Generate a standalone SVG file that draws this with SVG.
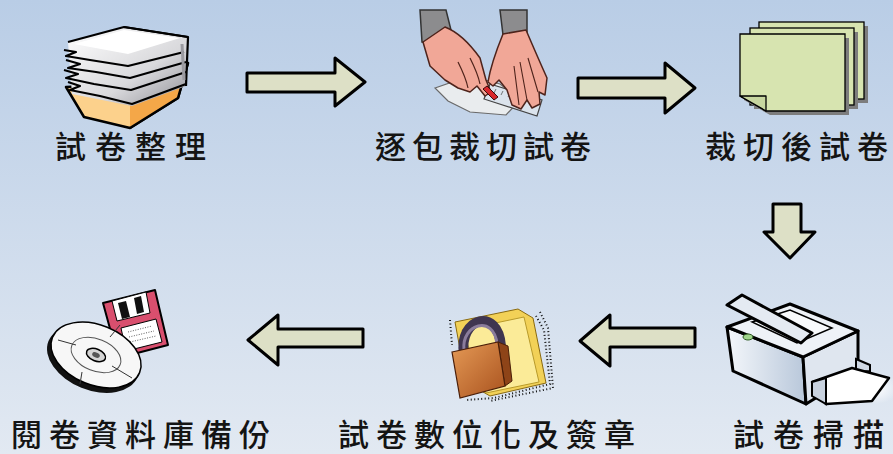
<svg xmlns="http://www.w3.org/2000/svg" width="893" height="454" viewBox="0 0 893 454">
  <defs>
    <linearGradient id="bg" x1="0" y1="0" x2="0" y2="1">
      <stop offset="0" stop-color="#b9cde6"/>
      <stop offset="1" stop-color="#e2e9f2"/>
    </linearGradient>
    <linearGradient id="paperShade" x1="0" y1="0" x2="1" y2="1">
      <stop offset="0" stop-color="#ffffff"/>
      <stop offset="0.6" stop-color="#d9d9dc"/>
      <stop offset="1" stop-color="#8f8f95"/>
    </linearGradient>
    <linearGradient id="lockBody" x1="0" y1="0" x2="1" y2="1">
      <stop offset="0" stop-color="#e59a56"/>
      <stop offset="1" stop-color="#a9521e"/>
    </linearGradient>
    <linearGradient id="scanBody" x1="0" y1="0" x2="1" y2="0">
      <stop offset="0" stop-color="#f4f7fb"/>
      <stop offset="1" stop-color="#b8c7da"/>
    </linearGradient>
    <radialGradient id="glow" cx="0.5" cy="0.5" r="0.5">
      <stop offset="0" stop-color="#ffffff"/>
      <stop offset="1" stop-color="#ffffff" stop-opacity="0"/>
    </radialGradient>
    <style>
      .lbl { font-family: "Noto Sans CJK TC", "Noto Sans CJK SC", sans-serif; font-size: 31px; font-weight: 500; fill: #141414; letter-spacing: 7px; }
      .wide { letter-spacing: 9px; }
      .tight { letter-spacing: 6px; }
      .arrow { fill: #dde0c6; stroke: #000; stroke-width: 3; stroke-linejoin: round; }
      .skin { fill: #f1a797; stroke: #4e231b; stroke-width: 1.5; stroke-linejoin: round; }
      .sleeve { fill: #8c8c8e; stroke: #333; stroke-width: 1.5; }
      .sheet { fill: #d7e4b0; stroke: #000; stroke-width: 1.3; }
      .shadow { fill: #7d7d7d; }
    </style>
  </defs>

  <rect width="893" height="454" fill="url(#bg)"/>

  <!-- connectors -->
  <g id="connectors">
    <polygon class="arrow" points="247,73 335,73 335,58 365,82 335,106 335,92 247,92"/>
    <polygon class="arrow" points="578,78 665,78 665,63 695,88 665,113 665,98 578,98"/>
    <polygon class="arrow" points="773,204 801,204 801,232 815,232 790,258 764,232 773,232"/>
    <polygon class="arrow" points="695,328 610,328 610,315 580,341 610,366 610,347 695,347"/>
    <polygon class="arrow" points="363,329 278,329 278,315 248,340 278,365 278,347 363,347"/>
  </g>

  <!-- step 1: paper stack in a box -->
  <g id="sort-papers">
    <polygon points="66,87 84,117 130,128 178,98 188,63 130,84" fill="#fcd18c" stroke="#000" stroke-width="2.5" stroke-linejoin="round"/>
    <polygon points="130,92 130,128 178,98 188,63" fill="#f4a748"/>
    <polyline points="130,128 178,98 188,63" fill="none" stroke="#000" stroke-width="2.5" stroke-linejoin="round"/>
    <polygon points="68,42 124,27 188,37 186,86 132,106 72,94" fill="url(#paperShade)"/>
    <g fill="none" stroke="#000" stroke-width="2.2" stroke-linejoin="round">
      <polyline points="68,42 124,27 188,37"/>
      <polyline points="64,50 76,52 66,56 90,60 128,66 184,52"/>
      <polyline points="66,60 80,64 68,68 96,72 130,78 186,62"/>
      <polyline points="64,70 78,74 66,78 94,84 131,90 186,72"/>
      <polyline points="68,82 80,86 70,90 100,96 132,104 186,84"/>
      <polyline points="124,27 188,37 186,86"/>
    </g>
    <polygon points="74,44 124,30 180,38 128,54" fill="#ffffff"/>
    <polyline points="182,44 184,80" stroke="#9a9aa0" stroke-width="3" fill="none"/>
    <text class="lbl wide" x="55" y="158">試卷整理</text>
  </g>

  <!-- step 2: cutting the bundle with a ruler and knife -->
  <g id="cut-bundle">
    <polygon points="435,88 470,76 500,84 520,100 506,115 470,112 448,101" fill="#e9ecee" stroke="#6a6a6a" stroke-width="1.2"/>
    <polygon points="490,84 542,100 537,116 484,99" fill="#dbe3ec" stroke="#444" stroke-width="1.2"/>
    <g stroke="#555" stroke-width="0.8">
      <line x1="496" y1="89" x2="494" y2="93"/>
      <line x1="503" y1="91" x2="501" y2="95"/>
      <line x1="510" y1="93" x2="508" y2="97"/>
      <line x1="517" y1="95" x2="515" y2="99"/>
      <line x1="524" y1="97" x2="522" y2="101"/>
      <line x1="531" y1="99" x2="529" y2="103"/>
    </g>
    <polygon class="sleeve" points="420,10 446,10 451,30 440,44 422,42"/>
    <path class="skin" d="M423,42 L445,27 C458,32 470,44 480,58 L486,80 L491,92 L485,96 L477,86 L470,92 L458,88 L445,80 L430,66 Z"/>
    <path d="M470,58 C474,66 478,74 480,84 M458,62 C462,70 466,78 468,88" fill="none" stroke="#4e231b" stroke-width="1.2"/>
    <polygon points="483,89 487,86 498,97 494,100" fill="#d8262b" stroke="#3a0a0a" stroke-width="1"/>
    <polygon class="sleeve" points="500,10 527,10 527,33 503,35"/>
    <path class="skin" d="M503,34 L526,30 C532,44 538,58 547,78 L545,95 L539,92 L540,104 L532,108 L527,100 L521,109 L512,105 L507,90 L499,80 L493,86 L488,82 C490,70 494,56 503,34 Z"/>
    <path d="M520,62 L527,100 M514,66 L519,105 M528,58 L538,92" fill="none" stroke="#4e231b" stroke-width="1.1"/>
    <text class="lbl tight" x="375" y="158">逐包裁切試卷</text>
  </g>

  <!-- step 3: cut sheets -->
  <g id="cut-sheets">
    <rect class="shadow" x="763" y="26" width="105" height="77"/>
    <rect class="sheet" x="759" y="22" width="105" height="77"/>
    <rect class="shadow" x="754" y="32" width="104" height="77"/>
    <rect class="sheet" x="750" y="28" width="104" height="77"/>
    <polygon class="shadow" points="744,38 849,38 849,115 770,115 744,100"/>
    <polygon class="sheet" points="740,34 845,34 845,111 766,111 740,96"/>
    <polygon points="740,96 766,96 766,111" fill="#c7d6a0" stroke="#000" stroke-width="1.3" stroke-linejoin="round"/>
    <text class="lbl" style="letter-spacing:0" x="705 743 781 819 857" y="158">裁切後試卷</text>
  </g>

  <!-- step 4: scanner -->
  <g id="scan">
    <ellipse cx="876" cy="388" rx="22" ry="16" fill="url(#glow)"/>
    <polygon points="727,327 803,357 806,404 733,371" fill="url(#scanBody)" stroke="#000" stroke-width="3" stroke-linejoin="round"/>
    <polygon points="803,357 858,331 858,372 806,404" fill="#dfe6ef" stroke="#000" stroke-width="3" stroke-linejoin="round"/>
    <polygon points="727,327 790,304 858,331 803,357" fill="#eef2f7" stroke="#000" stroke-width="3" stroke-linejoin="round"/>
    <polygon points="752,322 790,310 832,328 797,343" fill="#f8fafc" stroke="#000" stroke-width="1.5"/>
    <polygon points="727,305 742,295 812,333 801,343" fill="#e4eaf2" stroke="#000" stroke-width="3" stroke-linejoin="round"/>
    <ellipse cx="748" cy="337" rx="5" ry="3" fill="#9fd48a" stroke="#2d5a22" stroke-width="1"/>
    <polygon points="856,359 870,365 870,371 856,372" fill="#cfd8e4" stroke="#000" stroke-width="2"/>
    <polygon points="812,382 852,368 889,378 872,401 826,404" fill="#ffffff" stroke="#000" stroke-width="2.5" stroke-linejoin="round"/>
    <polygon points="812,382 826,378 826,404 812,396" fill="#c8d2df" stroke="#000" stroke-width="2"/>
    <text class="lbl wide" x="733" y="446">試卷掃描</text>
  </g>

  <!-- step 5: locked folder -->
  <g id="digitize-sign">
    <g fill="none" stroke="#111" stroke-width="2" stroke-dasharray="1 2.5">
      <polyline points="536,316 544,330 550,384 494,398 466,400"/>
      <polyline points="540,312 548,328 553,388 490,401"/>
      <polyline points="450,320 452,345"/>
    </g>
    <polygon points="455,322 518,309 533,318 546,383 490,396 466,382" fill="#f2d157" stroke="#8a6a10" stroke-width="1"/>
    <polygon points="462,330 524,317 539,382 486,393" fill="#fbeb98" stroke="#b89a2a" stroke-width="1"/>
    <path d="M464,354 C458,318 498,306 501,346" fill="none" stroke="#3f3550" stroke-width="10" stroke-linecap="round"/>
    <path d="M464,350 C461,324 494,314 497,344" fill="none" stroke="#8a7c9c" stroke-width="3" stroke-linecap="round"/>
    <polygon points="498,342 508,346 512,381 505,386" fill="#8e4418" stroke="#4a1e08" stroke-width="1"/>
    <polygon points="452,352 498,342 505,386 460,398" fill="url(#lockBody)" stroke="#4a1e08" stroke-width="1.2"/>
    <text class="lbl" x="338" y="446">試卷數位化及簽章</text>
  </g>

  <!-- step 6: backup to disc and floppy -->
  <g id="backup">
    <polygon points="103,303 155,290 168,345 118,358" fill="#d94f6e" stroke="#000" stroke-width="2" stroke-linejoin="round"/>
    <polygon points="112,301 146,292 150,313 117,321" fill="#ffffff" stroke="#000" stroke-width="1"/>
    <polygon points="118,303 126,301 130,317 122,319" fill="#111"/>
    <polygon points="134,298 141,296 144,312 137,314" fill="#111"/>
    <polygon points="121,328 156,319 162,342 126,351" fill="#ffffff" stroke="#000" stroke-width="1"/>
    <g stroke="#333" stroke-width="0.8" stroke-dasharray="1 1.5">
      <line x1="128" y1="332" x2="152" y2="326"/>
      <line x1="129" y1="337" x2="154" y2="331"/>
      <line x1="130" y1="342" x2="156" y2="336"/>
    </g>
    <ellipse cx="93" cy="359" rx="48" ry="31" transform="rotate(22 93 359)" fill="#111"/>
    <ellipse cx="96" cy="355" rx="47" ry="30" transform="rotate(22 96 355)" fill="#f7f7f7" stroke="#000" stroke-width="1.5"/>
    <ellipse cx="96" cy="355" rx="26" ry="16" transform="rotate(22 96 355)" fill="none" stroke="#555" stroke-width="1"/>
    <ellipse cx="96" cy="355" rx="10" ry="6" transform="rotate(22 96 355)" fill="#d5d5d5" stroke="#000" stroke-width="1.5"/>
    <ellipse cx="96" cy="355" rx="4" ry="2.5" transform="rotate(22 96 355)" fill="#555"/>
    <g stroke="#333" stroke-width="1">
      <line x1="58" y1="340" x2="76" y2="345"/>
      <line x1="112" y1="366" x2="132" y2="378"/>
      <line x1="110" y1="337" x2="120" y2="325"/>
      <line x1="82" y1="372" x2="80" y2="384"/>
    </g>
    <text class="lbl" x="11" y="446">閱卷資料庫備份</text>
  </g>
</svg>
